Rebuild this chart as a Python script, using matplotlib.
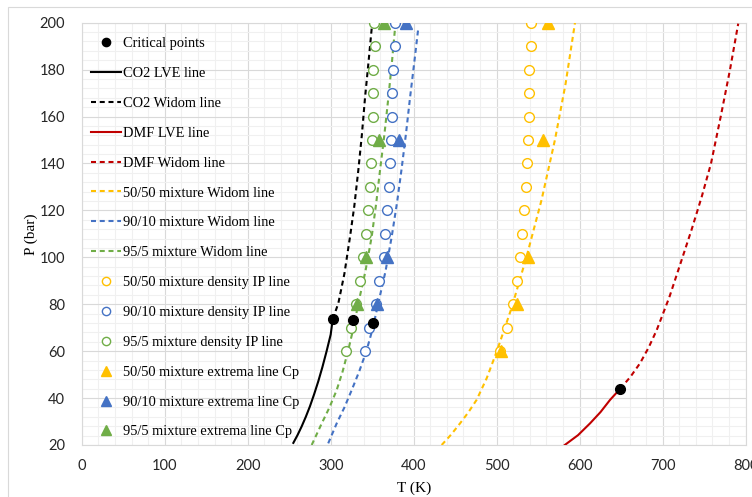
import matplotlib
matplotlib.use('Agg')
import matplotlib.pyplot as plt
from matplotlib.patches import Rectangle
from matplotlib.ticker import MultipleLocator

# ---------------- data (T in K, P in bar) ----------------
crit_T = [302.4, 327.2, 350.6, 648.6]
crit_P = [73.6, 73.3, 72.1, 43.9]

co2_lve_T = [255.0, 260.0, 265.0, 270.0, 275.0, 280.0, 285.0, 290.0, 295.0, 300.0, 302.4]
co2_lve_P = [20.9, 24.2, 27.9, 32.0, 36.5, 41.6, 47.1, 53.2, 59.9, 67.1, 73.6]

co2_widom_T = [302.4, 309.2, 316.5, 323.3, 328.5, 333.3, 337.5, 341.3, 345.5, 349.4]
co2_widom_P = [73.6, 80.4, 93.0, 108.8, 122.0, 137.2, 152.0, 167.8, 183.0, 197.6]

dmf_lve_T = [582.0, 598.0, 612.4, 625.0, 636.5, 648.6]
dmf_lve_P = [20.0, 24.2, 29.2, 34.0, 39.2, 43.9]

dmf_widom_T = [648.6, 661.0, 672.6, 683.0, 692.8, 708.0, 722.0, 735.0, 747.0, 758.2, 769.9, 781.0, 791.0]
dmf_widom_P = [43.9, 49.0, 54.8, 61.5, 69.0, 83.0, 98.0, 112.0, 125.8, 140.0, 160.0, 179.8, 199.6]

w5050_T = [433.7, 445.0, 455.8, 466.0, 475.9, 488.0, 500.0, 518.0, 536.0, 554.0, 570.2, 583.0, 594.3]
w5050_P = [20.0, 24.4, 29.2, 34.0, 39.3, 48.5, 59.8, 78.5, 100.3, 124.4, 150.1, 174.0, 199.9]

w9010_T = [297.0, 307.2, 316.5, 325.3, 334.5, 343.0, 350.5, 357.3, 366.0, 373.5, 380.0, 385.5, 390.8, 395.5, 400.5, 405.5]
w9010_P = [20.7, 29.2, 36.0, 43.4, 51.5, 60.0, 69.5, 80.4, 94.0, 108.8, 123.5, 137.9, 153.0, 167.8, 182.5, 197.6]

w955_T = [277.1, 289.2, 298.5, 307.2, 314.5, 321.2, 327.5, 333.3, 341.8, 349.4, 354.8, 359.4, 364.6, 369.4, 373.6, 377.5]
w955_P = [20.0, 29.2, 36.0, 43.4, 51.5, 60.5, 70.0, 80.4, 94.0, 108.8, 123.0, 137.0, 152.0, 167.8, 182.5, 197.6]

ip_P = [200, 190, 180, 170, 160, 150, 140, 130, 120, 110, 100, 90, 80, 70, 60]
ip5050_T = [541.0, 541.0, 539.3, 539.3, 538.6, 537.7, 536.1, 534.9, 533.3,
            530.8, 528.0, 524.8, 520.0, 512.5, 504.0]
ip9010_T = [377.5, 377.5, 375.5, 374.0, 373.5, 372.3, 371.2, 370.5, 368.2,
            365.4, 364.5, 358.6, 354.0, 346.1, 341.3]
ip955_T = [352.5, 353.4, 351.5, 351.0, 350.5, 349.4, 348.0, 347.0, 345.0,
           342.5, 338.5, 335.3, 330.0, 324.1, 318.4]

cp5050_P = [200, 150, 100, 80, 60]
cp5050_T = [562.2, 555.4, 537.3, 524.8, 504.8]
cp9010_P = [200, 150, 100, 80]
cp9010_T = [390.7, 382.7, 367.5, 356.2]
cp955_P = [200, 150, 100, 80]
cp955_T = [364.6, 358.6, 342.5, 332.0]

x_ticks = [0, 100, 200, 300, 400, 500, 600, 700, 800]
y_ticks = [20, 40, 60, 80, 100, 120, 140, 160, 180, 200]

# ---------------- style ----------------
YEL = '#FFC000'
BLU = '#4472C4'
GRN = '#70AD47'
RED = '#C00000'
DASH = (2.4, 1.8)
LW = 1.5

W, H = 752, 497
fig = plt.figure(figsize=(W / 100, H / 100), dpi=100)
left, right, top, bottom = 81.7, 745.7, 22.7, 445.0
ax = fig.add_axes([left / W, 1 - bottom / H, (right - left) / W, (bottom - top) / H])

# chart-area border
fig.patches.append(Rectangle((8 / W, -0.1), 1.0, 1 - 7 / H + 0.1, transform=fig.transFigure,
                             fill=False, edgecolor='#d9d9d9', lw=0.8, zorder=0))

h = []
h += ax.plot(crit_T, crit_P, 'o', color='black', ms=7, zorder=10, label='Critical points')
h += ax.plot(co2_lve_T, co2_lve_P, '-', color='black', lw=LW, zorder=3, label='CO2 LVE line')
h += ax.plot(co2_widom_T, co2_widom_P, color='black', lw=LW, dashes=DASH, zorder=3, label='CO2 Widom line')
h += ax.plot(dmf_lve_T, dmf_lve_P, '-', color=RED, lw=LW, zorder=3, label='DMF LVE line')
h += ax.plot(dmf_widom_T, dmf_widom_P, color=RED, lw=LW, dashes=DASH, zorder=3, label='DMF Widom line')
h += ax.plot(w5050_T, w5050_P, color=YEL, lw=LW, dashes=DASH, zorder=3, label='50/50 mixture Widom line')
h += ax.plot(w9010_T, w9010_P, color=BLU, lw=LW, dashes=DASH, zorder=3, label='90/10 mixture Widom line')
h += ax.plot(w955_T, w955_P, color=GRN, lw=LW, dashes=DASH, zorder=3, label='95/5 mixture Widom line')
for T, c, lab in [(ip5050_T, YEL, '50/50 mixture density IP line'),
                  (ip9010_T, BLU, '90/10 mixture density IP line'),
                  (ip955_T, GRN, '95/5 mixture density IP line')]:
    h += ax.plot(T, ip_P, 'o', ms=7, mfc='white', mec=c, mew=1.0, zorder=5, label=lab)
for T, P, c, lab in [(cp5050_T, cp5050_P, YEL, '50/50 mixture extrema line Cp'),
                     (cp9010_T, cp9010_P, BLU, '90/10 mixture extrema line Cp'),
                     (cp955_T, cp955_P, GRN, '95/5 mixture extrema line Cp')]:
    h += ax.plot(T, P, '^', ms=8, color=c, mec=c, zorder=6, label=lab)

ax.set_xlim(0, 800)
ax.set_ylim(20, 200)
ax.set_xticks(x_ticks)
ax.set_yticks(y_ticks)
ax.xaxis.set_minor_locator(MultipleLocator(20))
ax.yaxis.set_minor_locator(MultipleLocator(4))
ax.grid(which='major', color='#d9d9d9', lw=0.8, zorder=0)
ax.grid(which='minor', color='#f0f0f0', lw=0.8, zorder=0)
ax.set_axisbelow(True)
for s in ax.spines.values():
    s.set_color('#d9d9d9')
    s.set_linewidth(0.8)
ax.tick_params(which='both', length=0)
ax.tick_params(axis='y', pad=12)
ax.tick_params(axis='x', pad=10)
for lab in ax.get_xticklabels() + ax.get_yticklabels():
    lab.set_fontfamily('Lato')
    lab.set_fontsize(10.5)
    lab.set_color('#262626')

ax.set_xlabel('T (K)', fontfamily='Liberation Serif', fontsize=11, labelpad=6)
ax.set_ylabel('P (bar)', fontfamily='Liberation Serif', fontsize=11, labelpad=1)

leg = ax.legend(handles=h, loc='upper left', bbox_to_anchor=(0.014, 0.966),
                frameon=False, borderaxespad=0, borderpad=0,
                prop={'family': 'Liberation Serif', 'size': 10.4},
                labelspacing=1.16, handlelength=2.1, handletextpad=0.1,
                numpoints=1, markerscale=0.85)

fig.savefig('out.png', dpi=100)
